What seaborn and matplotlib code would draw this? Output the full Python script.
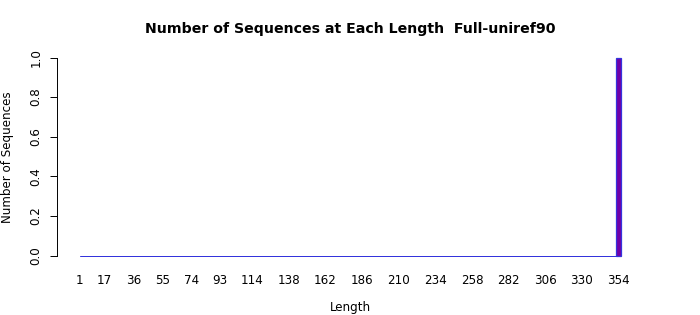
import matplotlib
matplotlib.use("Agg")
import matplotlib.pyplot as plt
import seaborn as sns
import pandas as pd

# ---- data ----
lengths = list(range(1, 355))                 # sequence lengths 1..354
counts = [0] * 353 + [1]                      # only length 354 has one sequence
tick_values = [1, 17, 36, 55, 74, 93, 114, 138, 162, 186, 210, 234, 258, 282, 306, 330, 354]
title = "Number of Sequences at Each Length  Full-uniref90"
xlabel = "Length"
ylabel = "Number of Sequences"

fill_color = "#7000A8"
edge_color = "#3434DC"

df = pd.DataFrame({"Length": [str(v) for v in lengths], "Count": counts})
df["pos"] = range(len(df))

sns.set_style("white")
plt.rcParams["font.family"] = ["DejaVu Sans"]
plt.rcParams["text.color"] = "black"
plt.rcParams["xtick.color"] = "black"
plt.rcParams["ytick.color"] = "black"
plt.rcParams["axes.labelcolor"] = "black"

W, H = 700, 315
fig = plt.figure(figsize=(W / 100, H / 100), dpi=100)
left, right, top, bottom = 57, 643, 57.5, 255.5
ax = fig.add_axes([left / W, 1 - bottom / H, (right - left) / W, (bottom - top) / H])

sns.barplot(data=df, x="Length", y="Count", order=df["Length"], color=fill_color,
            edgecolor=edge_color, linewidth=0.9, width=1.0, saturation=1,
            errorbar=None, ax=ax)

# zero-height bars: their borders in R form a flat line; draw it from the same data
zero = df[df["Count"] == 0]
sns.lineplot(data=zero, x="pos", y="Count", color=edge_color, linewidth=0.72,
             ax=ax, zorder=4, clip_on=False)

for p, c in zip(ax.patches, counts):
    p.set_clip_on(False)
    if c == 0:
        p.set_linewidth(0)
    else:
        # widen the single non-zero bar a bit, keeping its center
        p.set_edgecolor(edge_color)
        cx = p.get_x() + p.get_width() / 2
        p.set_width(2.8)
        p.set_x(cx - 1.4)
        p.set_zorder(5)

# x scale: index 0 at pixel ~79.8, index 353 at ~618.5
scale = (618.5 - 79.8) / 353
xmin = -(79.8 - left) / scale
xmax = 353 + (right - 618.5) / scale
ax.set_xlim(xmin, xmax)
ax.set_ylim(0, 1)

ax.set_xticks([v - 1 for v in tick_values])
ax.set_xticklabels([str(v) for v in tick_values], fontsize=8.6)
ax.set_yticks([0, 0.2, 0.4, 0.6, 0.8, 1.0])
ax.set_yticklabels(["0.0", "0.2", "0.4", "0.6", "0.8", "1.0"], fontsize=8.6,
                   rotation=90, va="center")
ax.tick_params(axis="x", length=0, pad=13)
ax.tick_params(axis="y", length=5, width=0.7, pad=5.5, color="black", left=True)

for s in ["top", "right", "bottom"]:
    ax.spines[s].set_visible(False)
ax.spines["left"].set_color("black")
ax.spines["left"].set_linewidth(0.7)
ax.spines["left"].set_bounds(0, 1)

ax.set_xlabel("")
ax.set_ylabel("")
fig.text((left + right) / 2 / W, 1 - 29 / H, title, ha="center", va="center",
         fontsize=10.2, fontweight="bold")
fig.text((left + right) / 2 / W, 1 - 307 / H, xlabel, ha="center", va="center", fontsize=8.6)
fig.text(8 / W, 1 - 157 / H, ylabel, ha="center", va="center", fontsize=8.6, rotation=90)

fig.savefig("out.png", dpi=100, facecolor="white")
